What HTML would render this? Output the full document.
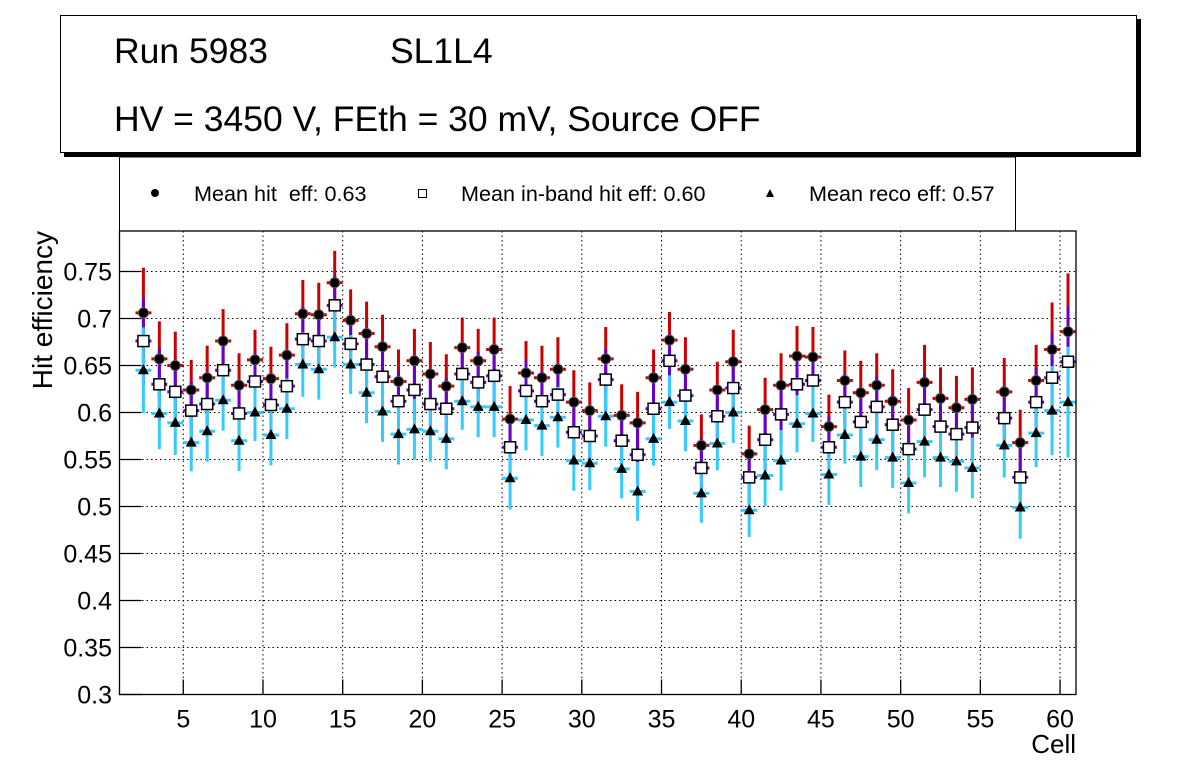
<!DOCTYPE html>
<html><head><meta charset="utf-8"><style>
body{margin:0;background:#fff;}
svg text{font-family:"Liberation Sans",sans-serif;white-space:pre;}
</style></head><body>
<svg id="chart" width="1196" height="772" viewBox="0 0 1196 772" xmlns="http://www.w3.org/2000/svg">
<rect x="0" y="0" width="1196" height="772" fill="#fff"/>
<g>
<rect x="64" y="19" width="1077" height="138" fill="#000"/>
<rect x="60.5" y="15.5" width="1076" height="137" fill="#fff" stroke="#000" stroke-width="1"/>
<text x="114" y="63" font-size="35.5">Run 5983</text>
<text x="390" y="63" font-size="35.5">SL1L4</text>
<text x="114" y="131" font-size="35.5">HV = 3450 V, FEth = 30 mV, Source OFF</text>
</g>
<g>
<rect x="119.5" y="157" width="896" height="74" fill="#fff" stroke="#000" stroke-width="1"/>
<circle cx="155" cy="193" r="4" fill="#000"/>
<text x="194" y="201" font-size="21.6" xml:space="preserve">Mean hit  eff: 0.63</text>
<rect x="418.5" y="189.5" width="8" height="8" fill="#fff" stroke="#000"/>
<text x="461" y="201" font-size="21.6">Mean in-band hit eff: 0.60</text>
<polygon points="770,189 766,197 774,197" fill="#000"/>
<text x="809" y="201" font-size="21.6">Mean reco eff: 0.57</text>
</g>
<g id="grid"></g>
<g id="marks"></g>
<g id="axes"></g>
</svg>
<script>
const cells = [2.5,3.5,4.5,5.5,6.5,7.5,8.5,9.5,10.5,11.5,12.5,13.5,14.5,15.5,16.5,17.5,18.5,19.5,20.5,21.5,22.5,23.5,24.5,25.5,26.5,27.5,28.5,29.5,30.5,31.5,32.5,33.5,34.5,35.5,36.5,37.5,38.5,39.5,40.5,41.5,42.5,43.5,44.5,45.5,46.5,47.5,48.5,49.5,50.5,51.5,52.5,53.5,54.5,56.5,57.5,58.5,59.5,60.5];
const hitEff = [0.706,0.657,0.650,0.624,0.637,0.676,0.629,0.656,0.636,0.661,0.705,0.704,0.738,0.698,0.684,0.670,0.633,0.655,0.641,0.628,0.669,0.655,0.667,0.593,0.642,0.637,0.646,0.611,0.602,0.657,0.597,0.589,0.637,0.677,0.646,0.565,0.624,0.654,0.556,0.603,0.629,0.660,0.659,0.585,0.634,0.621,0.629,0.612,0.592,0.632,0.615,0.605,0.614,0.622,0.568,0.634,0.667,0.686];
const inbandEff = [0.676,0.630,0.622,0.602,0.609,0.645,0.599,0.633,0.608,0.628,0.678,0.676,0.714,0.673,0.651,0.638,0.612,0.624,0.609,0.604,0.641,0.632,0.639,0.563,0.623,0.612,0.619,0.579,0.575,0.635,0.570,0.555,0.604,0.655,0.618,0.541,0.596,0.626,0.531,0.571,0.598,0.630,0.634,0.563,0.611,0.590,0.606,0.587,0.561,0.603,0.585,0.577,0.584,0.594,0.531,0.611,0.637,0.654];
const recoEff = [0.645,0.599,0.589,0.568,0.580,0.613,0.570,0.600,0.576,0.604,0.651,0.646,0.680,0.651,0.621,0.601,0.577,0.582,0.580,0.572,0.612,0.606,0.606,0.530,0.592,0.586,0.595,0.549,0.546,0.596,0.540,0.516,0.572,0.611,0.591,0.514,0.567,0.600,0.496,0.533,0.549,0.588,0.599,0.534,0.576,0.553,0.571,0.552,0.525,0.569,0.552,0.548,0.541,0.565,0.499,0.578,0.602,0.611];
const hitErr = [0.048,0.040,0.036,0.032,0.034,0.034,0.034,0.032,0.034,0.034,0.036,0.034,0.034,0.033,0.034,0.034,0.034,0.034,0.034,0.034,0.032,0.034,0.034,0.035,0.034,0.034,0.034,0.034,0.030,0.034,0.033,0.033,0.030,0.030,0.034,0.033,0.030,0.034,0.030,0.034,0.034,0.032,0.032,0.034,0.032,0.034,0.034,0.034,0.034,0.040,0.033,0.034,0.034,0.036,0.035,0.038,0.050,0.062];
const inbandErr = hitErr.map(e=>e*0.95);
const recoErr = hitErr.map(e=>e*0.95);
const xTicks = [5,10,15,20,25,30,35,40,45,50,55,60];
const yTicks = [0.3,0.35,0.4,0.45,0.5,0.55,0.6,0.65,0.7,0.75];

const L=119.5,R=1076,T=231,B=694.5;
const X=v=>L+(v-1)*(R-L)/60;
const Y=v=>B-(v-0.3)*940;
const NS='http://www.w3.org/2000/svg';
function mk(parent,tag,attrs){const e=document.createElementNS(NS,tag);for(const k in attrs)e.setAttribute(k,attrs[k]);parent.appendChild(e);return e;}
const grid=document.getElementById('grid'),marks=document.getElementById('marks'),axes=document.getElementById('axes');
xTicks.forEach(t=>{const g=mk(grid,'line',{x1:X(t),x2:X(t),y1:T,y2:B,stroke:'#000','stroke-width':1,'stroke-dasharray':'1.5,3'});

});
yTicks.forEach(t=>{if(t<=0.3)return;const g=mk(grid,'line',{x1:L,x2:R,y1:Y(t),y2:Y(t),stroke:'#000','stroke-width':1,'stroke-dasharray':'1.5,3'});

});

function series(vals,errs,col,name){
  vals.forEach((v,i)=>{const c=cells[i];
    const ln=mk(marks,'line',{x1:X(c),x2:X(c),y1:Y(v+errs[i]),y2:Y(v-errs[i]),stroke:col,'stroke-width':3});
    
    
    const h=mk(marks,'line',{x1:X(c-0.5),x2:X(c+0.5),y1:Y(v),y2:Y(v),stroke:col,'stroke-width':3});
    
    
  });
}
series(hitEff,hitErr,'#cc0000','hit');
series(inbandEff,inbandErr,'#6600cc','inband');
series(recoEff,recoErr,'#33ccff','reco');
hitEff.forEach((v,i)=>{const m=mk(marks,'circle',{cx:X(cells[i]),cy:Y(v),r:5,fill:'#000',stroke:'#555','stroke-width':1});

});
inbandEff.forEach((v,i)=>{const m=mk(marks,'rect',{x:X(cells[i])-5.5,y:Y(v)-5.5,width:11,height:11,fill:'#fff',stroke:'#000','stroke-width':1.5});

});
recoEff.forEach((v,i)=>{const x=X(cells[i]),y=Y(v);const m=mk(marks,'polygon',{points:`${x},${y-6} ${x-5.5},${y+4} ${x+5.5},${y+4}`,fill:'#000'});

});

const fr=mk(axes,'rect',{x:L,y:T,width:R-L,height:B-T,fill:'none',stroke:'#000','stroke-width':1.3});


xTicks.forEach(t=>{mk(axes,'line',{x1:X(t),x2:X(t),y1:B,y2:B-15,stroke:'#000','stroke-width':1.3});
const tx=mk(axes,'text',{x:X(t),y:B+33,'font-size':25,'text-anchor':'middle'});tx.textContent=t;

});
yTicks.forEach(t=>{mk(axes,'line',{x1:L,x2:L+22,y1:Y(t),y2:Y(t),stroke:'#000','stroke-width':1.3});
const tx=mk(axes,'text',{x:112,y:Y(t)+9,'font-size':25,'text-anchor':'end'});tx.textContent=String(t);

});
const xt=mk(axes,'text',{x:R,y:753,'font-size':26,'text-anchor':'end'});xt.textContent='Cell';


const yt=mk(axes,'text',{x:0,y:0,'font-size':28,'text-anchor':'end',transform:'translate(52,231) rotate(-90)'});yt.textContent='Hit efficiency';


</script>
</body></html>
